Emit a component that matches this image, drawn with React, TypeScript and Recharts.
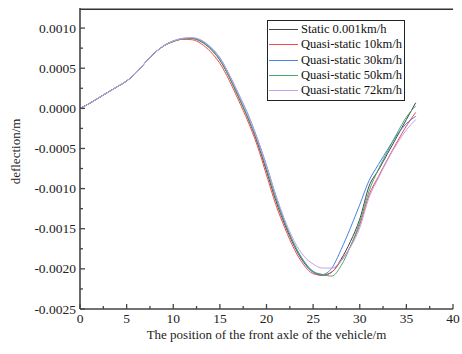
import { LineChart, Line, XAxis, YAxis, Label, ReferenceLine } from 'recharts';

// position of the front axle (m)
const positions = [
  0, 1, 2, 3, 4, 5, 6, 7, 8, 9, 10, 11, 12, 13, 14, 15, 16, 17, 18,
  19, 20, 21, 22, 23, 24, 25, 26, 27, 28, 29, 30, 31, 32, 33, 34, 35, 36,
];

// deflection (x1e-4 m) per case
const static001 = [
  0.0, 0.6, 1.3, 2.0, 2.7, 3.4, 4.4, 5.7, 6.9, 7.8, 8.35, 8.65, 8.7, 8.3, 7.4, 6.0, 3.9, 1.4, -1.2,
  -4.2, -7.8, -11.5, -14.6, -17.2, -19.2, -20.4, -20.8, -20.4, -18.8, -16.6, -13.8, -9.7, -7.7, -5.6, -3.5, -1.4, 0.7,
];
const quasi10 = [
  0.0, 0.6, 1.3, 2.0, 2.7, 3.4, 4.4, 5.7, 6.9, 7.8, 8.3, 8.6, 8.55, 8.05, 7.05, 5.6, 3.5, 1.0, -1.6,
  -4.6, -8.3, -12.0, -15.0, -17.6, -19.5, -20.6, -20.8, -20.4, -19.0, -17.2, -14.5, -10.8, -8.5, -6.3, -4.2, -2.2, -0.5,
];
const quasi30 = [
  0.0, 0.6, 1.3, 2.0, 2.7, 3.4, 4.4, 5.7, 6.9, 7.8, 8.4, 8.7, 8.75, 8.45, 7.6, 6.3, 4.2, 1.8, -0.7,
  -3.7, -7.1, -10.9, -14.3, -17.0, -19.1, -20.4, -20.7, -19.9, -17.6, -14.9, -12.0, -9.0, -7.0, -5.1, -3.3, -1.9, -1.0,
];
const quasi50 = [
  0.0, 0.6, 1.3, 2.0, 2.7, 3.4, 4.4, 5.7, 6.9, 7.8, 8.35, 8.65, 8.72, 8.35, 7.45, 6.05, 3.95, 1.5, -1.1,
  -4.0, -7.5, -11.2, -14.4, -17.0, -19.0, -20.3, -20.7, -20.9, -19.6, -17.2, -14.2, -10.3, -7.6, -5.3, -3.1, -1.1, 0.3,
];
const quasi72 = [
  0.0, 0.6, 1.3, 2.0, 2.7, 3.4, 4.4, 5.7, 6.9, 7.8, 8.4, 8.72, 8.82, 8.5, 7.65, 6.3, 4.2, 1.8, -0.8,
  -3.8, -7.2, -10.8, -14.0, -16.6, -18.4, -19.4, -19.9, -19.9, -19.0, -17.3, -14.9, -11.1, -8.7, -6.4, -4.4, -2.7, -1.4,
];

const seriesNames = [
  'Static 0.001km/h',
  'Quasi-static 10km/h',
  'Quasi-static 30km/h',
  'Quasi-static 50km/h',
  'Quasi-static 72km/h',
];
const seriesColors = ['#444444', '#ee4b4b', '#4584e6', '#45aa70', '#c6a0ec'];
const seriesValues = [static001, quasi10, quasi30, quasi50, quasi72];

const xTicks = [0, 2.5, 5, 7.5, 10, 12.5, 15, 17.5, 20, 22.5, 25, 27.5, 30, 32.5, 35, 37.5, 40];
const yTicks = [
  -0.0025, -0.00225, -0.002, -0.00175, -0.0015, -0.00125, -0.001, -0.00075, -0.0005, -0.00025,
  0, 0.00025, 0.0005, 0.00075, 0.001,
];
const xDomain = [0, 40];
const yDomain = [-0.0025, 0.00125];

const data = positions.map((x, i) => {
  const row: Record<string, number> = { x };
  seriesValues.forEach((vals, k) => {
    row[`s${k}`] = vals[i] * 1e-4;
  });
  return row;
});

const FONT = '"Liberation Serif", "Times New Roman", serif';
const AXIS = '#444';

const isMajor = (v: number, step: number) => Math.abs(Math.round(v / step) * step - v) < 1e-9;

function XTick(props: any) {
  const { x, y, payload } = props;
  const major = isMajor(payload.value, 5);
  return (
    <g>
      <line x1={x} x2={x} y1={y} y2={y - (major ? 5 : 3)} stroke={AXIS} strokeWidth={1.3} />
      {major && (
        <text x={x} y={y + 14} textAnchor="middle" style={{ fontFamily: FONT, fontSize: 13.5, fill: '#222' }}>
          {payload.value}
        </text>
      )}
    </g>
  );
}

function YTick(props: any) {
  const { x, y, payload } = props;
  const major = isMajor(payload.value, 0.0005);
  return (
    <g>
      <line x1={x} x2={x + (major ? 5 : 3)} y1={y} y2={y} stroke={AXIS} strokeWidth={1.3} />
      {major && (
        <text x={x - 4} y={y + 4.5} textAnchor="end" style={{ fontFamily: FONT, fontSize: 13.5, fill: '#222' }}>
          {payload.value.toFixed(4)}
        </text>
      )}
    </g>
  );
}

function YTitle(props: any) {
  const { viewBox } = props;
  const cx = viewBox.x + 15;
  const cy = viewBox.y + viewBox.height / 2 - 7;
  return (
    <text
      x={cx}
      y={cy}
      transform={`rotate(-90, ${cx}, ${cy})`}
      textAnchor="middle"
      dominantBaseline="central"
      style={{ fontFamily: FONT, fontSize: 13, fill: '#222' }}
    >
      deflection/m
    </text>
  );
}

function LegendBox() {
  return (
    <div
      style={{
        position: 'absolute',
        left: 267,
        top: 20,
        border: '1px solid #222',
        background: '#fff',
        padding: '1px 2px 2px 1px',
        fontFamily: FONT,
        fontSize: 12.5,
        lineHeight: '15.3px',
        color: '#111',
      }}
    >
      {seriesNames.map((name, k) => (
        <div key={name} style={{ display: 'flex', alignItems: 'center', whiteSpace: 'nowrap' }}>
          <span
            style={{
              display: 'inline-block',
              width: 29,
              height: 0,
              borderTop: `1.5px solid ${seriesColors[k]}`,
              marginRight: 3,
            }}
          />
          {name}
        </div>
      ))}
    </div>
  );
}

export default function App() {
  return (
    <div style={{ position: 'absolute', left: 0, top: 0, width: 462, height: 354, background: '#fff' }}>
      <LineChart width={462} height={354} data={data} margin={{ top: 8, right: 9, left: 0, bottom: 15 }}>
        <XAxis
          dataKey="x"
          type="number"
          domain={xDomain}
          ticks={xTicks}
          interval={0}
          tickSize={0}
          tickMargin={0}
          tick={<XTick />}
          axisLine={{ stroke: AXIS, strokeWidth: 1.6 }}
          height={30}
        >
          <Label
            value="The position of the front axle of the vehicle/m"
            position="insideBottom"
            offset={0}
            style={{ fontFamily: FONT, fontSize: 13, fill: '#222' }}
          />
        </XAxis>
        <YAxis
          type="number"
          domain={yDomain}
          ticks={yTicks}
          interval={0}
          tickSize={0}
          tickMargin={0}
          tick={<YTick />}
          axisLine={{ stroke: AXIS, strokeWidth: 1.6 }}
          width={80}
          allowDataOverflow
        >
          <Label content={<YTitle />} />
        </YAxis>
        <YAxis
          yAxisId="right"
          orientation="right"
          type="number"
          domain={yDomain}
          tick={false}
          tickLine={false}
          axisLine={{ stroke: '#333', strokeWidth: 1.2 }}
          width={0}
        />
        {/* top frame edge, drawn just inside the plot so it stays visible */}
        <ReferenceLine y={yDomain[1] - 0.000015} stroke="#333" strokeWidth={1.5} ifOverflow="visible" />
        {seriesNames.map((name, k) => (
          <Line
            key={name}
            type="monotone"
            dataKey={`s${k}`}
            name={name}
            stroke={seriesColors[k]}
            strokeWidth={1}
            dot={false}
            isAnimationActive={false}
          />
        ))}
      </LineChart>
      <LegendBox />
    </div>
  );
}
